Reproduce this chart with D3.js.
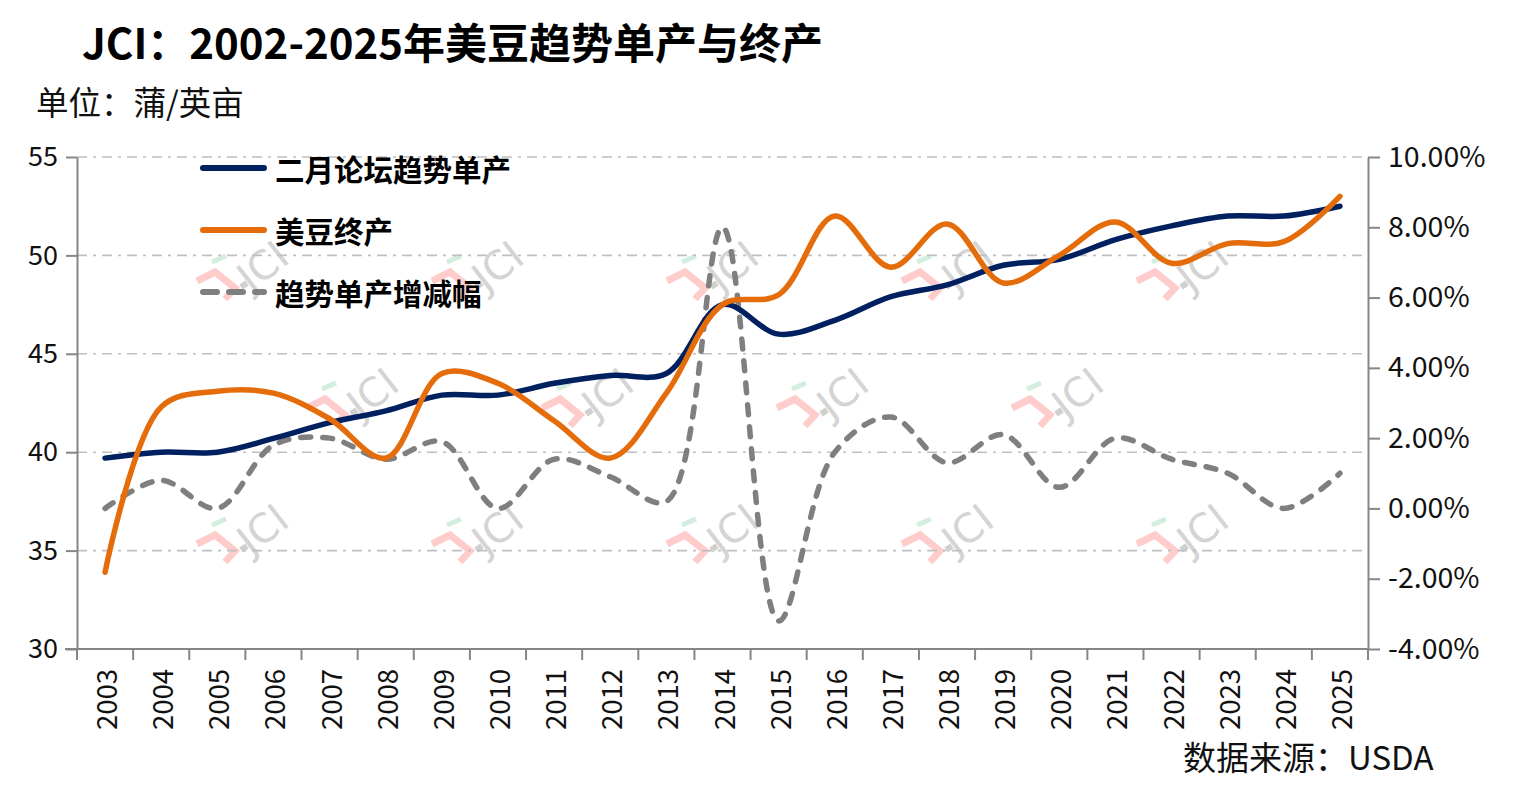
<!DOCTYPE html>
<html><head><meta charset="utf-8">
<script src="https://cdn.jsdelivr.net/npm/d3@7/dist/d3.min.js"></script>
<style>
html,body{margin:0;padding:0;background:#fff;}
svg{display:block;font-family:"Noto Sans CJK SC","Noto Sans",sans-serif;}
</style></head>
<body>
<svg id="chart" width="1517" height="806"></svg>
<script>
const years = ["2003","2004","2005","2006","2007","2008","2009","2010","2011","2012","2013","2014","2015","2016","2017","2018","2019","2020","2021","2022","2023","2024","2025"];
const trendYield = [39.7,40.0,40.0,40.7,41.5,42.1,42.9,42.9,43.5,43.9,44.0,47.5,46.0,46.7,47.9,48.5,49.5,49.8,50.8,51.5,52.0,52.0,52.5];
const finalYield = [33.9,42.3,43.1,43.0,41.7,39.7,44.0,43.5,41.6,39.7,43.0,47.5,48.0,52.0,49.4,51.6,48.6,50.0,51.7,49.6,50.6,50.7,53.0];
const trendChange = [0.0,0.8,0.0,1.8,2.0,1.4,1.9,0.0,1.4,0.9,0.2,8.0,-3.2,1.6,2.6,1.3,2.1,0.6,2.0,1.4,1.0,0.0,1.0];
const leftTicks = [30,35,40,45,50,55];
const rightTicks = [-4,-2,0,2,4,6,8,10];
const seriesNames = ["二月论坛趋势单产","美豆终产","趋势单产增减幅"];
const titleText = "JCI：2002-2025年美豆趋势单产与终产";
const unitText = "单位：蒲/英亩";
const sourceText = "数据来源：USDA";

const svg = d3.select("#chart");
const L = 77, R = 1368, T = 157, B = 649;
const x = d3.scaleBand().domain(years).range([L, R]).padding(0);
const cx = d => x(d) + x.bandwidth()/2;
const yL = d3.scaleLinear().domain([30,55]).range([B,T]);
const yR = d3.scaleLinear().domain([-4,10]).range([B,T]);
const axisColor = "#868686";

// watermarks
const wmAnchors = [];
[195,430,665,900,1135].forEach(px => { wmAnchors.push([px,235]); wmAnchors.push([px,498]); });
[305,540,775,1010].forEach(px => wmAnchors.push([px,362]));
const wm = svg.append("g").attr("class","watermarks");
wmAnchors.forEach(([ax,ay]) => {
  const g = wm.append("g").attr("transform",`translate(${ax},${ay})`);
  g.append("path").attr("d","M2,46 L20,37 L40,53 L30,64")
    .attr("fill","none").attr("stroke","#ffcccc").attr("stroke-width",7);
  g.append("path").attr("d","M17,27 L31,21")
    .attr("stroke","#d3eedf").attr("stroke-width",5);
  g.append("path").attr("d","M46,52 L52,48")
    .attr("stroke","#d0d0d0").attr("stroke-width",6);
  g.append("text").attr("transform","translate(56,58) rotate(-38)")
    .attr("font-size",40).attr("font-family","DejaVu Sans, sans-serif")
    .attr("fill","#d4d4d4").text("JCI");
});

// gridlines
svg.append("g").selectAll("line").data(leftTicks.filter(v=>v>30)).join("line")
  .attr("x1",L).attr("x2",R).attr("y1",d=>yL(d)).attr("y2",d=>yL(d))
  .attr("stroke","#bfbfbf").attr("stroke-width",1.6).attr("stroke-dasharray","10,6,3,6");

// axes
const axL = d3.axisLeft(yL).tickValues(leftTicks).tickSize(11).tickSizeOuter(0).tickPadding(8);
const gL = svg.append("g").attr("transform",`translate(${L},0)`).call(axL);
const axR = d3.axisRight(yR).tickValues(rightTicks).tickSize(12).tickSizeOuter(0).tickPadding(8)
  .tickFormat(d => d.toFixed(2) + "%");
const gR = svg.append("g").attr("transform",`translate(${R},0)`).call(axR);
const axB = d3.axisBottom(x).tickSize(0).tickFormat("");
const gB = svg.append("g").attr("transform",`translate(0,${B})`).call(axB);
const bounds = years.map(d => x(d)).concat([R]);
gB.selectAll("line.bt").data(bounds).join("line").attr("class","bt")
  .attr("x1",d=>d).attr("x2",d=>d).attr("y1",0).attr("y2",11)
  .attr("stroke",axisColor).attr("stroke-width",2);
[gL,gR,gB].forEach(g => {
  g.select(".domain").attr("stroke",axisColor).attr("stroke-width",2);
  g.selectAll(".tick line").attr("stroke",axisColor).attr("stroke-width",2);
  g.selectAll(".tick text").attr("font-size",27).attr("fill","#111")
    .attr("font-family","'Noto Sans CJK SC', sans-serif");
});
gR.selectAll(".tick text").attr("font-size",28.5);
gB.select(".domain").attr("d",`M${L-12},0H${R}`);
svg.append("g").selectAll("text").data(years).join("text")
  .attr("transform",d=>`translate(${cx(d)},669) rotate(-90)`)
  .attr("text-anchor","end").attr("dominant-baseline","central")
  .attr("font-size",27.5).attr("fill","#111").text(d=>d);

// lines
const curve = d3.curveCatmullRom.alpha(0.5);
const lineL = d3.line().x((d,i)=>cx(years[i])).y(d=>yL(d)).curve(curve);
const lineR = d3.line().x((d,i)=>cx(years[i])).y(d=>yR(d)).curve(curve);
svg.append("path").datum(trendChange).attr("d",lineR).attr("fill","none")
  .attr("stroke","#7f7f7f").attr("stroke-width",5.5).attr("stroke-linecap","round")
  .attr("stroke-dasharray","10,12");
svg.append("path").datum(trendYield).attr("d",lineL).attr("fill","none")
  .attr("stroke","#002060").attr("stroke-width",5.5).attr("stroke-linecap","round");
svg.append("path").datum(finalYield).attr("d",lineL).attr("fill","none")
  .attr("stroke","#e46c0a").attr("stroke-width",5.5).attr("stroke-linecap","round");

// legend
const legColors = ["#002060","#e46c0a","#7f7f7f"];
const legY = [168,230,292];
const leg = svg.append("g");
seriesNames.forEach((n,i) => {
  const ln = leg.append("line").attr("x1",203).attr("x2",264).attr("y1",legY[i]).attr("y2",legY[i])
    .attr("stroke",legColors[i]).attr("stroke-width",6).attr("stroke-linecap","round");
  if (i===2) ln.attr("stroke-dasharray","14,12");
  leg.append("text").attr("x",275).attr("y",legY[i]).attr("dominant-baseline","central")
    .attr("font-size",29.5).attr("font-weight","bold").attr("fill","#000").text(n);
});

// titles
svg.append("text").attr("x",82).attr("y",40).attr("dominant-baseline","central")
  .attr("font-size",42).attr("font-weight","bold").attr("fill","#000").text(titleText);
svg.append("text").attr("x",36).attr("y",100).attr("dominant-baseline","central")
  .attr("font-size",32.5).attr("fill","#111").text(unitText);
svg.append("text").attr("x",1183).attr("y",756).attr("dominant-baseline","central")
  .attr("font-size",33).attr("fill","#111").text(sourceText);
</script>
</body></html>
